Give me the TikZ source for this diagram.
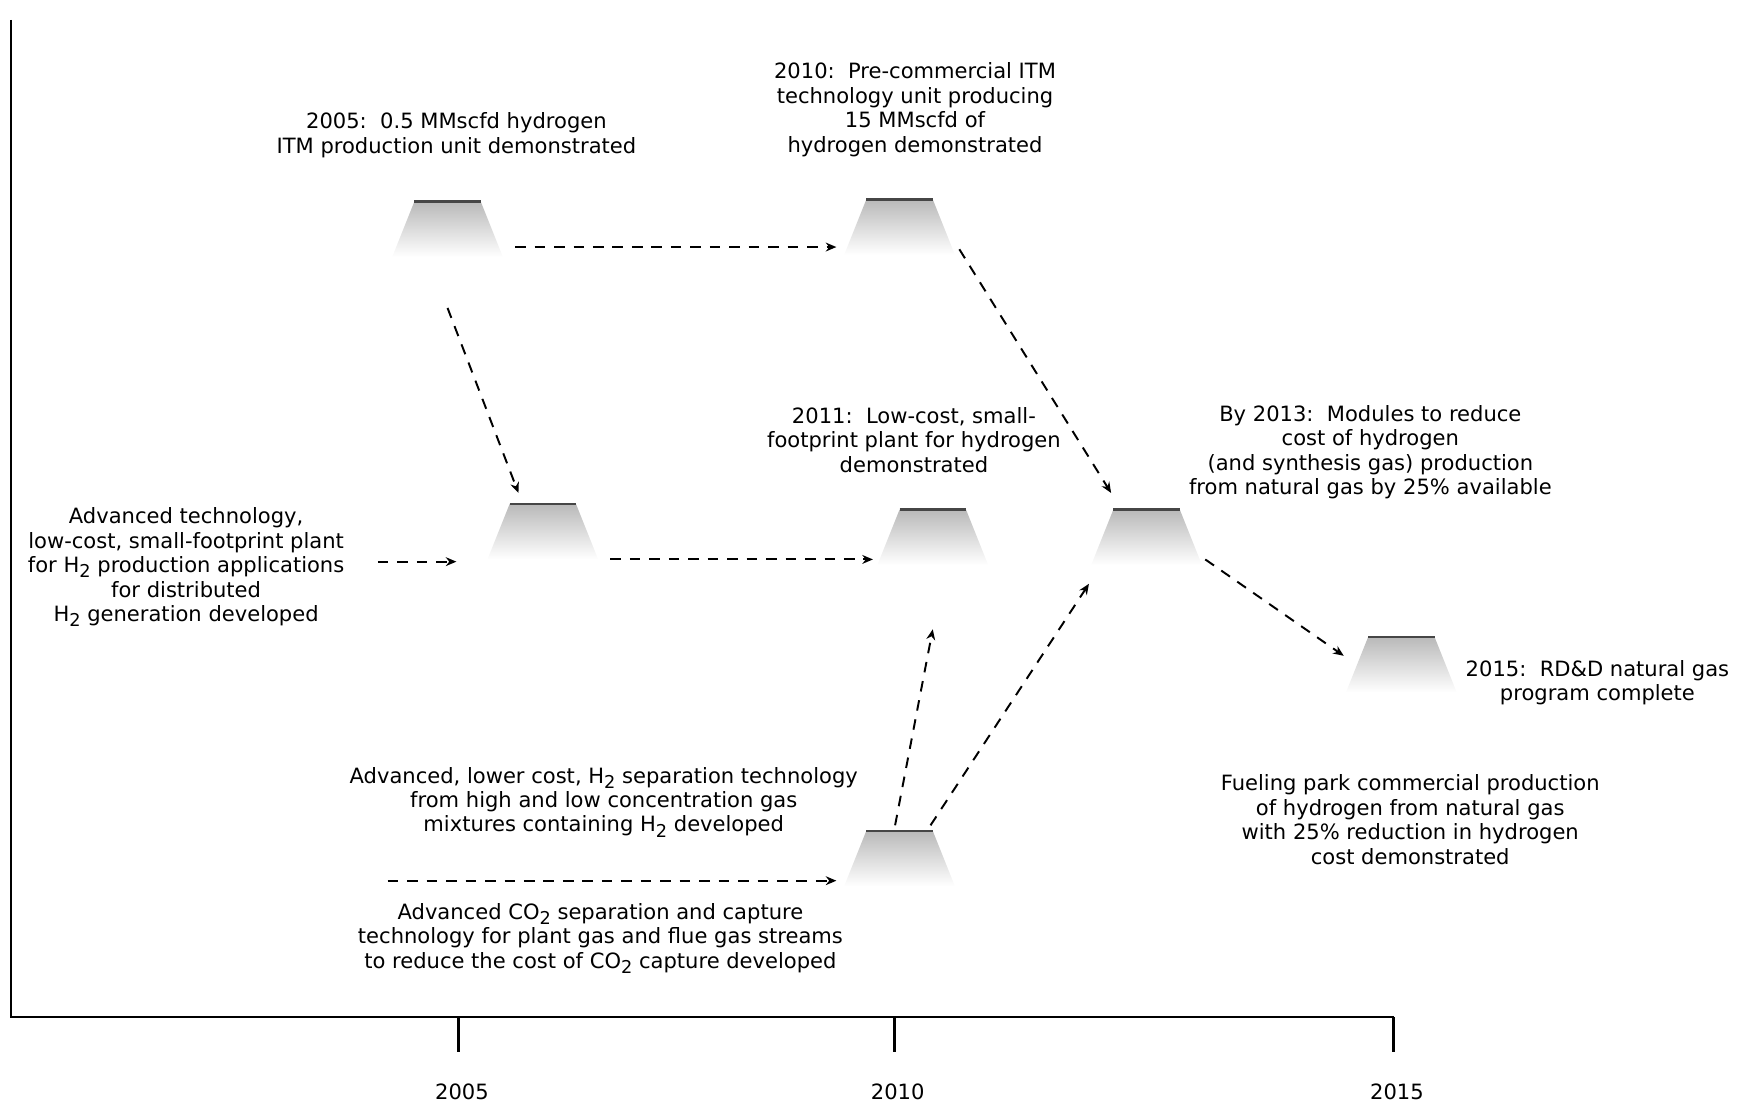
\documentclass[tikz,border=0pt]{standalone}
\usepackage{fontspec}
\setmainfont{DejaVu Sans}
\usetikzlibrary{arrows.meta}
\newcommand{\subsc}[1]{\raisebox{-0.45ex}{\fontsize{10}{10}\selectfont #1}}

\begin{document}
\begin{tikzpicture}[x=0.022cm,y=-0.022cm,>={Stealth[length=6pt,width=5pt]},
	mound/.style={top color=gray!55, middle color=gray!38, bottom color=white},
	ridge/.style={gray!55!black, line width=1.4pt},
	link/.style={->, dash pattern=on 6pt off 5pt, line width=1.1pt},
	note/.style={align=center, font=\fontsize{11.9}{13.8}\selectfont, inner sep=0pt},
	frame/.style={line width=1.3pt}]
	\useasboundingbox (0,0) rectangle (1568,996.6);

	% milestones
	\foreach \m/\x/\y in {m1/404/207, m2/812/205, m3/490/480, m4/842/485, m5/1035/485, m6/1265/600, m7/812/775} {
		\coordinate (\m) at (\x,\y);
		\shade[mound] (\x-30,\y-25) -- (\x+30,\y-25) -- (\x+50,\y+25) -- (\x-50,\y+25) -- cycle;
		\draw[ridge] (\x-30,\y-25) -- (\x+30,\y-25);
	}

	% texts
	\node[note] (itm) at (412,122) {2005:\ \ 0.5 MMscfd hydrogen\\ITM production unit demonstrated};
	\node[note] (precom) at (826,99) {2010:\ \ Pre-commercial ITM\\technology unit producing\\15 MMscfd of\\hydrogen demonstrated};
	\node[note] (lowcost) at (825,397) {2011:\ \ Low-cost, small-\\footprint plant for hydrogen\\demonstrated};
	\node[note] (modules) at (1237,408) {By 2013:\ \ Modules to reduce\\cost of hydrogen\\(and synthesis gas) production\\from natural gas by 25\% available};
	\node[note] (advtech) at (168,512) {Advanced technology,\\low-cost, small-footprint plant\\for H\subsc{2} production applications\\for distributed\\H\subsc{2} generation developed};
	\node[note] (rdd) at (1442,616) {2015:\ \ RD\&D natural gas\\program complete};
	\node[note] (fueling) at (1273,740) {Fueling park commercial production\\of hydrogen from natural gas\\with 25\% reduction in hydrogen\\cost demonstrated};
	\node[note] (hsep) at (545,724) {Advanced, lower cost, H\subsc{2} separation technology\\from high and low concentration gas\\mixtures containing H\subsc{2} developed};
	\node[note] (cosep) at (542,847) {Advanced CO\subsc{2} separation and capture\\technology for plant gas and flue gas streams\\to reduce the cost of CO\subsc{2} capture developed};
	\coordinate (feed) at (350,795);

	% links
	\draw[link] ([shift={(61,16)}]m1) -- ([shift={(-57,18)}]m2);
	\draw[link] ([shift={(0,71)}]m1) -- ([shift={(-22,-35)}]m3);
	\draw[link] ([shift={(54,20)}]m2) -- ([shift={(-32,-40)}]m5);
	\draw[link] ([shift={(30,-5)}]advtech.east) -- ([shift={(-78,27)}]m3);
	\draw[link] ([shift={(61,25)}]m3) -- ([shift={(-54,20)}]m4);
	\draw[link] ([shift={(53,20)}]m5) -- ([shift={(-52,-8)}]m6);
	\draw[link] ([shift={(-4,-30)}]m7) -- ([shift={(0,83)}]m4);
	\draw[link] ([shift={(28,-30)}]m7) -- ([shift={(-52,42)}]m5);
	\draw[link] (feed) -- ([shift={(-57,20)}]m7);

	% time axis
	\coordinate (top) at (10,18);
	\coordinate (origin) at (10,918);
	\coordinate (stop) at (1258,918);
	\draw[frame] (top) -- (origin) -- (stop);
	\foreach \x/\yr in {414/2005,807.4/2010,1258/2015} {
		\draw[frame] (\x,918) -- (\x,950);
		\node[note] (y\yr) at (\x+3,986) {\yr};
	}
\end{tikzpicture}
\end{document}
